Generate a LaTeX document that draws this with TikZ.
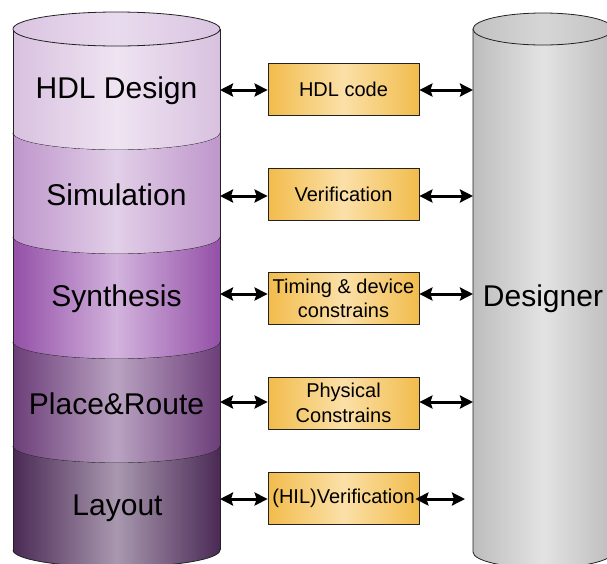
\documentclass[tikz,border=0pt]{standalone}
\usepackage{fontspec}
\setmainfont{Liberation Sans}
\usetikzlibrary{arrows.meta}

\definecolor{outline}{HTML}{222222}
\definecolor{boxedge}{HTML}{F2BC4C}
\definecolor{boxmid}{HTML}{FBE0A8}
\definecolor{greyedge}{HTML}{BDBDBD}
\definecolor{greymid}{HTML}{E3E3E3}
\definecolor{greytopedge}{HTML}{C2C2C2}
\definecolor{greytopmid}{HTML}{D6D6D6}
\definecolor{topedge}{HTML}{DAC4E1}
\definecolor{topmid}{HTML}{E9DBEE}
\definecolor{hdledge}{HTML}{D8C1DF}
\definecolor{hdlmid}{HTML}{EFE4F2}
\definecolor{simedge}{HTML}{BE96CB}
\definecolor{simmid}{HTML}{E2CFE8}
\definecolor{synedge}{HTML}{9450A7}
\definecolor{synmid}{HTML}{D2B3DD}
\definecolor{pnredge}{HTML}{6C3E79}
\definecolor{pnrmid}{HTML}{B9A2C1}
\definecolor{layedge}{HTML}{4A2A55}
\definecolor{laymid}{HTML}{A998AF}

% one slice of the flow cylinder: top level, bottom level, edge colour, centre colour
\newcommand\cylslice[4]{%
  \path[left color=#3, right color=#3, middle color=#4]
    (13,-#1) -- (13,-#2)
    arc[start angle=180, end angle=360, x radius=103.5, y radius=17]
    -- (220,-#1)
    arc[start angle=360, end angle=180, x radius=103.5, y radius=17]
    -- cycle;
  \draw[outline, line width=0.8pt] (13,-#2)
    arc[start angle=180, end angle=360, x radius=103.5, y radius=17];
}

\tikzset{
  stage/.style={font=\fontsize{30}{36}\selectfont, inner sep=0pt},
  artefact/.style={draw=outline, line width=0.8pt, left color=boxedge,
    right color=boxedge, middle color=boxmid, minimum width=151pt,
    minimum height=52pt, inner sep=0pt, align=center,
    font=\fontsize{20}{24.5}\selectfont},
  biarrow/.style={draw=black, line width=3pt,
    >={Stealth[length=13pt,width=13pt,inset=2pt]}, <->},
}

\begin{document}
\begin{tikzpicture}[x=1pt, y=1pt]
\useasboundingbox (0,0) rectangle (607,-563);
\fill[white] (0,0) rectangle (607,-563);
\begin{scope}
\clip (0,0) rectangle (607,-563);

% design-flow cylinder, one slice per stage
\cylslice{29}{133}{hdledge}{hdlmid}
\cylslice{133}{237}{simedge}{simmid}
\cylslice{237}{342}{synedge}{synmid}
\cylslice{342}{446}{pnredge}{pnrmid}
\cylslice{446}{550}{layedge}{laymid}
\draw[outline, line width=0.8pt] (13,-29) -- (13,-550) (220,-29) -- (220,-550);
\draw[outline, line width=0.8pt, left color=topedge, right color=topedge,
  middle color=topmid] (116.5,-29) ellipse[x radius=103.5, y radius=17];

% designer cylinder
\path[left color=greyedge, right color=greyedge, middle color=greymid]
  (473,-29) -- (473,-552)
  arc[start angle=180, end angle=360, x radius=70, y radius=16]
  -- (613,-29) -- cycle;
\draw[outline, line width=0.8pt] (473,-29) -- (473,-552)
  arc[start angle=180, end angle=360, x radius=70, y radius=16] -- (613,-29);
\draw[outline, line width=0.8pt, left color=greytopedge, right color=greytopedge,
  middle color=greytopmid] (543,-29) ellipse[x radius=70, y radius=16];
\end{scope}

% stage labels
\node[stage] (s1) at (116.5,-91) {HDL Design};
\node[stage] (s2) at (116.5,-195) {Simulation};
\node[stage] (s3) at (116.5,-299) {Synthesis};
\node[stage] (s4) at (116.5,-404) {Place\&Route};
\node[stage] (s5) at (117.5,-508) {Layout};
\node[stage] (dsg) at (543,-299) {Designer};

% artefacts exchanged with the designer
\node[artefact] (b1) at (343.5,-89.5) {HDL code};
\node[artefact] (b2) at (343.5,-194) {Verification};
\node[artefact] (b3) at (343.5,-298.5) {Timing \& device\\constrains};
\node[artefact] (b4) at (343.5,-403) {Physical\\Constrains};
\node[artefact] (b5) at (343.5,-498) {(HIL)Verification};

% cylinder wall anchors
\coordinate (L1) at (220,-90);
\coordinate (L2) at (220,-196);
\coordinate (L3) at (220,-294);
\coordinate (L4) at (220,-402);
\coordinate (L5) at (220,-499);
\coordinate (R1) at (473,-90);
\coordinate (R2) at (473,-196);
\coordinate (R3) at (473,-294);
\coordinate (R4) at (473,-402);
\coordinate (R5) at (465,-499);

\draw[biarrow] (L1) -- (L1 -| b1.west);
\draw[biarrow] (L2) -- (L2 -| b2.west);
\draw[biarrow] (L3) -- (L3 -| b3.west);
\draw[biarrow] (L4) -- (L4 -| b4.west);
\draw[biarrow] (L5) -- (L5 -| b5.west);
\draw[biarrow] (R1 -| b1.east) -- (R1);
\draw[biarrow] (R2 -| b2.east) -- (R2);
\draw[biarrow] (R3 -| b3.east) -- (R3);
\draw[biarrow] (R4 -| b4.east) -- (R4);
\draw[biarrow] ([xshift=-4pt]R5 -| b5.east) -- (R5);
\end{tikzpicture}
\end{document}
